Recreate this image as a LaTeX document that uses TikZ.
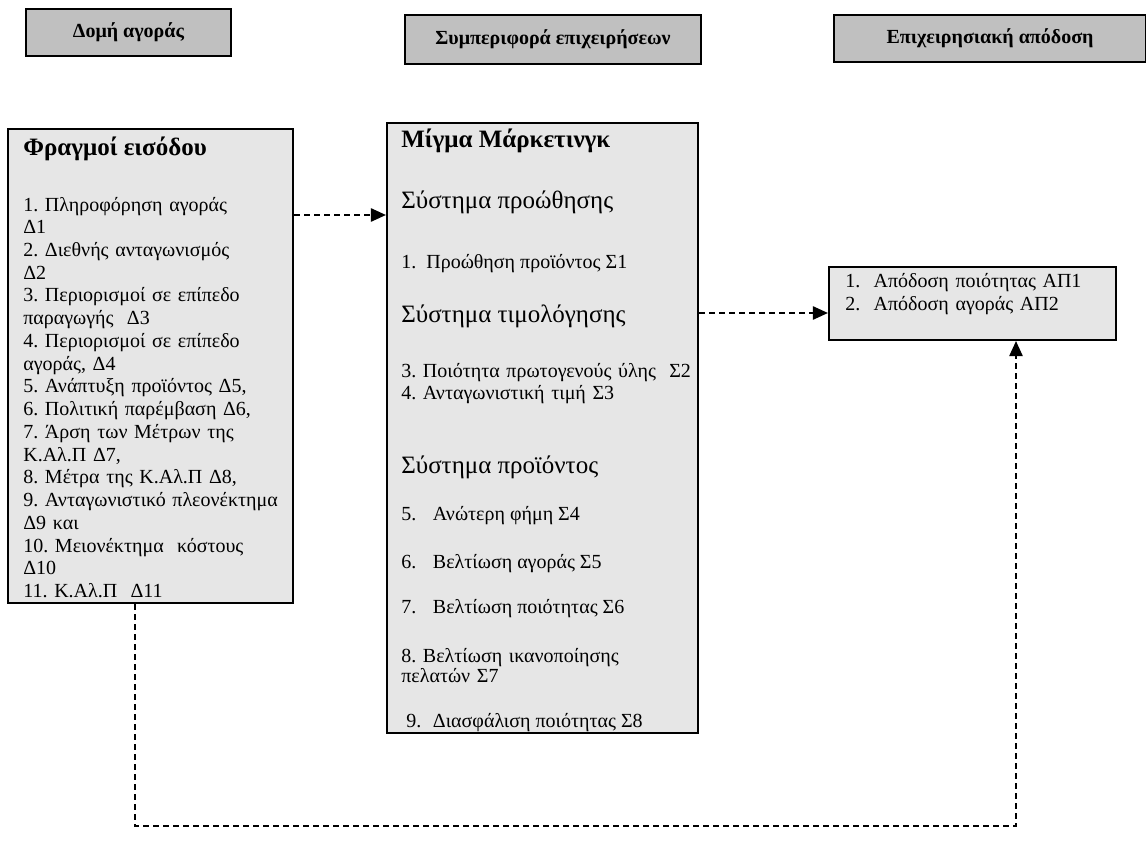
\documentclass[tikz,border=0pt]{standalone}
\usepackage{fontspec}
\setmainfont{Liberation Serif}
\usetikzlibrary{arrows.meta}
\definecolor{headgray}{HTML}{C0C0C0}
\definecolor{boxgray}{HTML}{E6E6E6}
\frenchspacing

\begin{document}
\begin{tikzpicture}[x=0.6pt,y=-0.6pt,
     headbox/.style={draw,line width=0.9pt,fill=headgray,inner sep=0pt,
                     font=\fontsize{12}{14}\selectfont\bfseries},
     bigbox/.style={draw,line width=1.3pt,fill=boxgray,inner sep=0pt},
     txt/.style={anchor=base west,inner sep=0pt,align=left,
                 font=\fontsize{12}{13.65}\selectfont},
     bigtxt/.style={txt,font=\fontsize{15}{17}\selectfont},
     boldtxt/.style={txt,font=\fontsize{15}{17}\selectfont\bfseries},
     link/.style={line width=0.9pt,dash pattern=on 3.6pt off 2.4pt,
                  -{Triangle[length=9pt,width=8pt]}}]
     \useasboundingbox (0,0) rectangle (1146,854);
     \node[headbox,minimum width=123pt,minimum height=28.2pt]  (market)  at ( 128.5, 32.5) {Δομή αγοράς};
     \node[headbox,minimum width=177.6pt,minimum height=29.4pt] (conduct) at ( 553  , 39.5) {Συμπεριφορά επιχειρήσεων};
     \node[headbox,minimum width=187pt,minimum height=28.2pt]  (perfhead) at ( 990  , 38.5) {Επιχειρησιακή απόδοση};

     \node[bigbox,minimum width=171pt,minimum height=284.4pt] (barriers) at ( 150.5,366  ) {};
     \node[bigbox,minimum width=186.6pt,minimum height=366pt] (mix)      at ( 542.5,428  ) {};
     \node[bigbox,minimum width=172.2pt,minimum height=43.8pt] (perf)    at ( 972.5,303.5) {};

     \node[boldtxt] (bartitle) at ( 23,155) {Φραγμοί εισόδου};
     \node[txt,text width=165pt] (barlist) at ( 23,211) {1. Πληροφόρηση αγοράς\\Δ1\\2. Διεθνής ανταγωνισμός\\Δ2\\3. Περιορισμοί σε επίπεδο\\παραγωγής\ \ Δ3\\4. Περιορισμοί σε επίπεδο\\αγοράς, Δ4\\5. Ανάπτυξη προϊόντος Δ5,\\6. Πολιτική παρέμβαση Δ6,\\7. Άρση των Μέτρων της\\Κ.Αλ.Π Δ7,\\8. Μέτρα της Κ.Αλ.Π Δ8,\\9. Ανταγωνιστικό πλεονέκτημα\\Δ9 και\\10. Μειονέκτημα\ \ κόστους\\Δ10\\11. Κ.Αλ.Π\ \ Δ11};

     \node[boldtxt] (mixtitle) at (401,147) {Μίγμα Μάρκετινγκ};
     \node[bigtxt]  (promo)    at (401,208) {Σύστημα προώθησης};
     \node[txt]     (item1)    at (401,268) {1.\ \ Προώθηση προϊόντος Σ1};
     \node[bigtxt]  (pricing)  at (401,322) {Σύστημα τιμολόγησης};
     \node[txt,text width=200pt] (item34) at (401,377) {3. Ποιότητα πρωτογενούς ύλης\ \ Σ2\\4. Ανταγωνιστική τιμή Σ3};
     \node[bigtxt]  (product)  at (401,473) {Σύστημα προϊόντος};
     \node[txt]     (item5)    at (401,520) {5.\hspace{10pt}Ανώτερη φήμη Σ4};
     \node[txt]     (item6)    at (401,568) {6.\hspace{10pt}Βελτίωση αγοράς Σ5};
     \node[txt]     (item7)    at (401,613) {7.\hspace{10pt}Βελτίωση ποιότητας Σ6};
     \node[txt,text width=175pt,font=\fontsize{12}{12}\selectfont] (item8) at (401,662) {8. Βελτίωση ικανοποίησης\\πελατών Σ7};
     \node[txt]     (item9)    at (406,727) {9.\hspace{7pt}Διασφάλιση ποιότητας Σ8};

     \node[txt,text width=165pt,font=\fontsize{12}{13.8}\selectfont] (perflist) at (845,287) {1.\ \ Απόδοση ποιότητας ΑΠ1\\2.\ \ Απόδοση αγοράς ΑΠ2};

     \draw[link] (barriers.east |- 0,215) -- (mix.west |- 0,215);
     \draw[link] (mix.east |- 0,313) -- (perf.west |- 0,313);
     \coordinate (turn) at (135,826);
     \draw[link] (barriers.south -| turn) -- (turn) -| (perf.south -| 1016,0);
\end{tikzpicture}
\end{document}
